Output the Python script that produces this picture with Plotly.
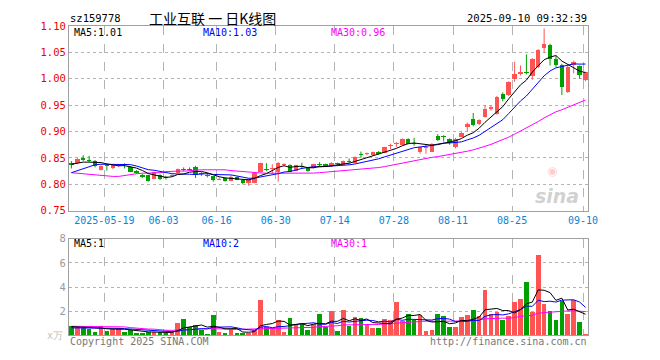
import plotly.graph_objects as go
import pandas as pd
import numpy as np

dates = ["05-09", "05-12", "05-13", "05-14", "05-15", "05-16", "05-19", "05-20", "05-21", "05-22",
         "05-23", "05-26", "05-27", "05-28", "05-29", "05-30", "06-03", "06-04", "06-05", "06-06",
         "06-09", "06-10", "06-11", "06-12", "06-13", "06-16", "06-17", "06-18", "06-19", "06-20",
         "06-23", "06-24", "06-25", "06-26", "06-27", "06-30", "07-01", "07-02", "07-03", "07-04",
         "07-07", "07-08", "07-09", "07-10", "07-11", "07-14", "07-15", "07-16", "07-17", "07-18",
         "07-21", "07-22", "07-23", "07-24", "07-25", "07-28", "07-29", "07-30", "07-31", "08-01",
         "08-04", "08-05", "08-06", "08-07", "08-08", "08-11", "08-12", "08-13", "08-14", "08-15",
         "08-18", "08-19", "08-20", "08-21", "08-22", "08-25", "08-26", "08-27", "08-28", "08-29",
         "09-01", "09-02", "09-03", "09-04", "09-05", "09-08", "09-09", "09-10"]

opens = [0.841, 0.840, 0.850, 0.845, 0.845, 0.828, 0.836, 0.830, 0.835, 0.837,
         0.832, 0.826, 0.818, 0.817, 0.811, 0.818, 0.813, 0.816, 0.822, 0.829,
         0.829, 0.833, 0.820, 0.818, 0.815, 0.809, 0.812, 0.807, 0.813, 0.809,
         0.802, 0.803, 0.823, 0.828, 0.829, 0.824, 0.836, 0.837, 0.826, 0.835,
         0.832, 0.831, 0.838, 0.838, 0.834, 0.839, 0.837, 0.844, 0.841, 0.857,
         0.857, 0.855, 0.862, 0.860, 0.873, 0.876, 0.875, 0.886, 0.877, 0.861,
         0.869, 0.862, 0.892, 0.890, 0.885, 0.871, 0.890, 0.909, 0.923, 0.914,
         0.927, 0.943, 0.933, 0.971, 0.969, 0.999, 1.009, 1.013, 1.005, 1.022,
         1.058, 1.064, 1.037, 1.025, 0.975, 1.025, 1.024, 0.997]
closes = [0.837, 0.848, 0.846, 0.844, 0.834, 0.834, 0.835, 0.836, 0.836, 0.836,
          0.824, 0.822, 0.813, 0.807, 0.823, 0.811, 0.812, 0.818, 0.829, 0.828,
          0.828, 0.818, 0.819, 0.816, 0.808, 0.811, 0.807, 0.814, 0.809, 0.802,
          0.810, 0.822, 0.840, 0.827, 0.831, 0.840, 0.838, 0.824, 0.836, 0.833,
          0.826, 0.838, 0.837, 0.834, 0.840, 0.838, 0.844, 0.843, 0.852, 0.856,
          0.858, 0.861, 0.857, 0.870, 0.875, 0.877, 0.886, 0.877, 0.876, 0.870,
          0.870, 0.877, 0.883, 0.889, 0.878, 0.886, 0.897, 0.915, 0.912, 0.921,
          0.942, 0.946, 0.965, 0.961, 0.994, 1.009, 1.012, 1.010, 1.037, 1.054,
          1.066, 1.037, 1.025, 0.985, 1.022, 1.032, 1.007, 1.012]
highs = [0.844, 0.850, 0.855, 0.854, 0.846, 0.836, 0.838, 0.838, 0.837, 0.840,
         0.834, 0.827, 0.820, 0.818, 0.824, 0.819, 0.816, 0.819, 0.830, 0.832,
         0.832, 0.835, 0.823, 0.822, 0.816, 0.813, 0.813, 0.817, 0.815, 0.810,
         0.811, 0.823, 0.841, 0.840, 0.838, 0.842, 0.840, 0.838, 0.837, 0.841,
         0.833, 0.839, 0.842, 0.839, 0.842, 0.841, 0.845, 0.849, 0.853, 0.862,
         0.860, 0.862, 0.863, 0.871, 0.877, 0.880, 0.887, 0.887, 0.888, 0.871,
         0.875, 0.878, 0.895, 0.893, 0.887, 0.888, 0.899, 0.917, 0.935, 0.923,
         0.950, 0.950, 0.967, 0.974, 0.995, 1.032, 1.025, 1.046, 1.039, 1.056,
         1.095, 1.066, 1.043, 1.028, 1.025, 1.034, 1.025, 1.013]
lows = [0.830, 0.838, 0.844, 0.842, 0.832, 0.826, 0.826, 0.829, 0.833, 0.830,
        0.823, 0.820, 0.812, 0.805, 0.810, 0.808, 0.809, 0.814, 0.821, 0.825,
        0.826, 0.812, 0.816, 0.813, 0.805, 0.808, 0.805, 0.806, 0.808, 0.800,
        0.797, 0.802, 0.822, 0.825, 0.820, 0.805, 0.834, 0.823, 0.825, 0.829,
        0.824, 0.830, 0.834, 0.833, 0.833, 0.836, 0.836, 0.840, 0.840, 0.850,
        0.855, 0.854, 0.856, 0.859, 0.867, 0.871, 0.874, 0.876, 0.873, 0.858,
        0.858, 0.861, 0.882, 0.881, 0.875, 0.868, 0.889, 0.900, 0.910, 0.912,
        0.926, 0.939, 0.932, 0.957, 0.967, 0.994, 1.006, 1.008, 0.998, 1.020,
        1.049, 1.025, 1.022, 0.969, 0.973, 1.010, 1.000, 0.995]
volumes = [0.77, 0.67, 0.72, 0.56, 0.29, 0.77, 0.37, 0.50, 0.61, 0.29,
           0.45, 0.21, 0.21, 0.27, 0.24, 0.29, 0.19, 0.24, 1.01, 1.33,
           0.67, 0.83, 0.45, 0.13, 1.65, 0.29, 0.19, 0.50, 0.19, 0.21,
           0.19, 0.45, 2.93, 0.72, 0.59, 1.25, 0.29, 1.41, 0.93, 0.93,
           0.45, 0.93, 1.73, 0.70, 2.05, 0.37, 2.13, 0.80, 1.49, 1.41,
           0.93, 0.64, 0.64, 1.33, 1.25, 2.77, 1.17, 1.73, 1.31, 1.65,
           0.37, 0.45, 1.73, 1.57, 0.69, 0.69, 1.49, 1.65, 2.13, 1.57,
           3.73, 1.73, 1.97, 1.25, 1.57, 2.77, 3.01, 4.45, 1.97, 6.61,
           2.61, 2.05, 1.25, 2.85, 1.73, 2.93, 1.09, 0.13]

# moving-average values for days before a full window exists
ma5_head = [0.838, 0.840, 0.842, 0.842]
ma10_head = [0.822, 0.826, 0.830, 0.834, 0.837, 0.838, 0.838, 0.838, 0.838]
ma30_head = [0.822, 0.821, 0.819, 0.818, 0.817, 0.8165, 0.815, 0.815, 0.815, 0.817,
             0.818, 0.820, 0.821, 0.821, 0.822, 0.822, 0.824, 0.825, 0.825, 0.825,
             0.826, 0.8275, 0.8275, 0.8275, 0.8275, 0.8275, 0.8275, 0.826, 0.825]
vma5_head = [0.72, 0.70, 0.70, 0.68]
vma10_head = [0.62, 0.62, 0.62, 0.62, 0.62, 0.62, 0.62, 0.60, 0.58]
vma30_head = [0.75, 0.75, 0.75, 0.75, 0.75, 0.75, 0.75, 0.75, 0.75, 0.70,
              0.64, 0.58, 0.56, 0.52, 0.51, 0.45, 0.42, 0.41, 0.44, 0.48,
              0.50, 0.52, 0.53, 0.55, 0.56, 0.56, 0.54, 0.50, 0.49]

tick_dates = ["05-19", "06-03", "06-16", "06-30", "07-14", "07-28", "08-11", "08-25", "09-10"]
tick_text = ["2025-05-19", "06-03", "06-16", "06-30", "07-14", "07-28", "08-11", "08-25", "09-10"]
price_ticks = [0.75, 0.80, 0.85, 0.90, 0.95, 1.00, 1.05, 1.10]
vol_ticks = [2, 4, 6, 8]

RED = "#ff5454"
GREEN = "#00a000"
MONO = "DejaVu Sans Mono"

n = len(dates)
xs = list(range(n))
up = [c >= o for o, c in zip(opens, closes)]
cols = [RED if u else GREEN for u in up]


def ma(vals, w, head):
    s = pd.Series(vals).rolling(w).mean().to_numpy()
    s[:len(head)] = head
    return s


fig = go.Figure()

# wicks
for flag, col in ((True, RED), (False, GREEN)):
    wx, wy = [], []
    for i in range(n):
        if up[i] == flag:
            wx += [i, i, None]
            wy += [lows[i], highs[i], None]
    fig.add_trace(go.Scatter(x=wx, y=wy, mode="lines", line=dict(color=col, width=1),
                             xaxis="x", yaxis="y", hoverinfo="skip", showlegend=False))

# bodies
base = [min(o, c) for o, c in zip(opens, closes)]
hgt = [max(abs(c - o), 0.0018) for o, c in zip(opens, closes)]
fig.add_trace(go.Bar(x=xs, y=hgt, base=base, width=0.76, marker=dict(color=cols, line=dict(width=0)),
                     xaxis="x", yaxis="y", showlegend=False))

# price MAs
for w, head, col in ((30, ma30_head, "#ff00ff"), (10, ma10_head, "#0000ff"), (5, ma5_head, "#000000")):
    fig.add_trace(go.Scatter(x=xs, y=ma(closes, w, head), mode="lines", line=dict(color=col, width=1),
                             xaxis="x", yaxis="y", showlegend=False))

# volume
fig.add_trace(go.Bar(x=xs, y=volumes, width=0.78, marker=dict(color=cols, line=dict(width=0)),
                     xaxis="x2", yaxis="y2", showlegend=False))
for w, head, col in ((30, vma30_head, "#ff00ff"), (10, vma10_head, "#0000ff"), (5, vma5_head, "#000000")):
    fig.add_trace(go.Scatter(x=xs, y=ma(volumes, w, head), mode="lines", line=dict(color=col, width=1),
                             xaxis="x2", yaxis="y2", showlegend=False))

W, H = 660, 360
xl, xr = 70, 597
xdom = [xl / W, xr / W]
xrange = [-0.417, n - 1 + 0.417]
tickvals = [dates.index(d) - 0.42 for d in tick_dates]

grid = "#b4b4b4"
border = "#a0a0a0"

common_x = dict(domain=xdom, range=xrange, tickmode="array", tickvals=tickvals,
                showgrid=True, gridcolor=grid, griddash="dash", gridwidth=1,
                showline=True, mirror=True, linecolor=border, linewidth=1,
                zeroline=False, ticks="", fixedrange=True)

fig.update_layout(
    width=W, height=H, margin=dict(l=0, r=0, t=0, b=0),
    paper_bgcolor="white", plot_bgcolor="white",
    barmode="overlay", bargap=0,
    xaxis=dict(**common_x, anchor="y", ticktext=tick_text,
               tickfont=dict(family=MONO, size=10, color="#0a84d6")),
    yaxis=dict(domain=[1 - 211.8 / H, 1 - 20.5 / H], range=[0.75, 1.10], tickmode="array",
               tickvals=price_ticks, ticktext=["%.2f" % v for v in price_ticks],
               tickfont=dict(family=MONO, size=10.5, color="#ee0000"),
               showgrid=True, gridcolor=grid, griddash="dot", gridwidth=1,
               showline=True, mirror=True, linecolor=border, linewidth=1,
               zeroline=False, ticks="", fixedrange=True),
    xaxis2=dict(**common_x, anchor="y2", showticklabels=False),
    yaxis2=dict(domain=[1 - 340.7 / H, 1 - 240.7 / H], range=[0, 8], tickmode="array",
                tickvals=vol_ticks, ticktext=[str(v) for v in vol_ticks],
                tickfont=dict(family=MONO, size=10.5, color="#999999"),
                showgrid=True, gridcolor=grid, griddash="dot", gridwidth=1,
                showline=True, mirror=True, linecolor=border, linewidth=1,
                zeroline=False, ticks="", fixedrange=True),
)


def txt(s, px, py, color="#000000", size=10, anchor="left", family=MONO, **kw):
    fig.add_annotation(text=s, x=px / W, y=1 - py / H, xref="paper", yref="paper",
                       xanchor=anchor, yanchor="middle", showarrow=False,
                       font=dict(family=family, size=size, color=color), **kw)


txt("sz159778", 69, 12, size=10.5)
txt("工业互联 一 日K线图", 149, 12, size=14, family="Noto Sans CJK SC")
txt("2025-09-10 09:32:39", 598, 12, size=10.5, anchor="right")

txt("MA5:1.01", 73, 27)
txt("MA10:1.03", 204, 27, color="#0000ff")
txt("MA30:0.96", 334, 27, color="#ff00ff")

txt("MA5:1", 73, 246)
txt("MA10:2", 204, 246, color="#0000ff")
txt("MA30:1", 334, 246, color="#ff00ff")

txt("x万", 66, 341, color="#c0c0c0", size=10, anchor="right")
txt("Copyright 2025 SINA.COM", 69, 347, color="#777777", size=10)
txt("http://finance.sina.com.cn", 598, 347, color="#777777", size=10, anchor="right")

txt("<b><i>sina</i></b>", 566, 197, color="rgba(150,150,150,0.45)", size=19, anchor="center",
    family="DejaVu Sans")
txt("◉", 560, 171, color="rgba(255,110,110,0.35)", size=12, anchor="center", family="DejaVu Sans")

fig.write_html("out.html", config={"displayModeBar": False, "staticPlot": True},
               post_script="document.body.style.margin='0';document.body.style.overflow='hidden';")
